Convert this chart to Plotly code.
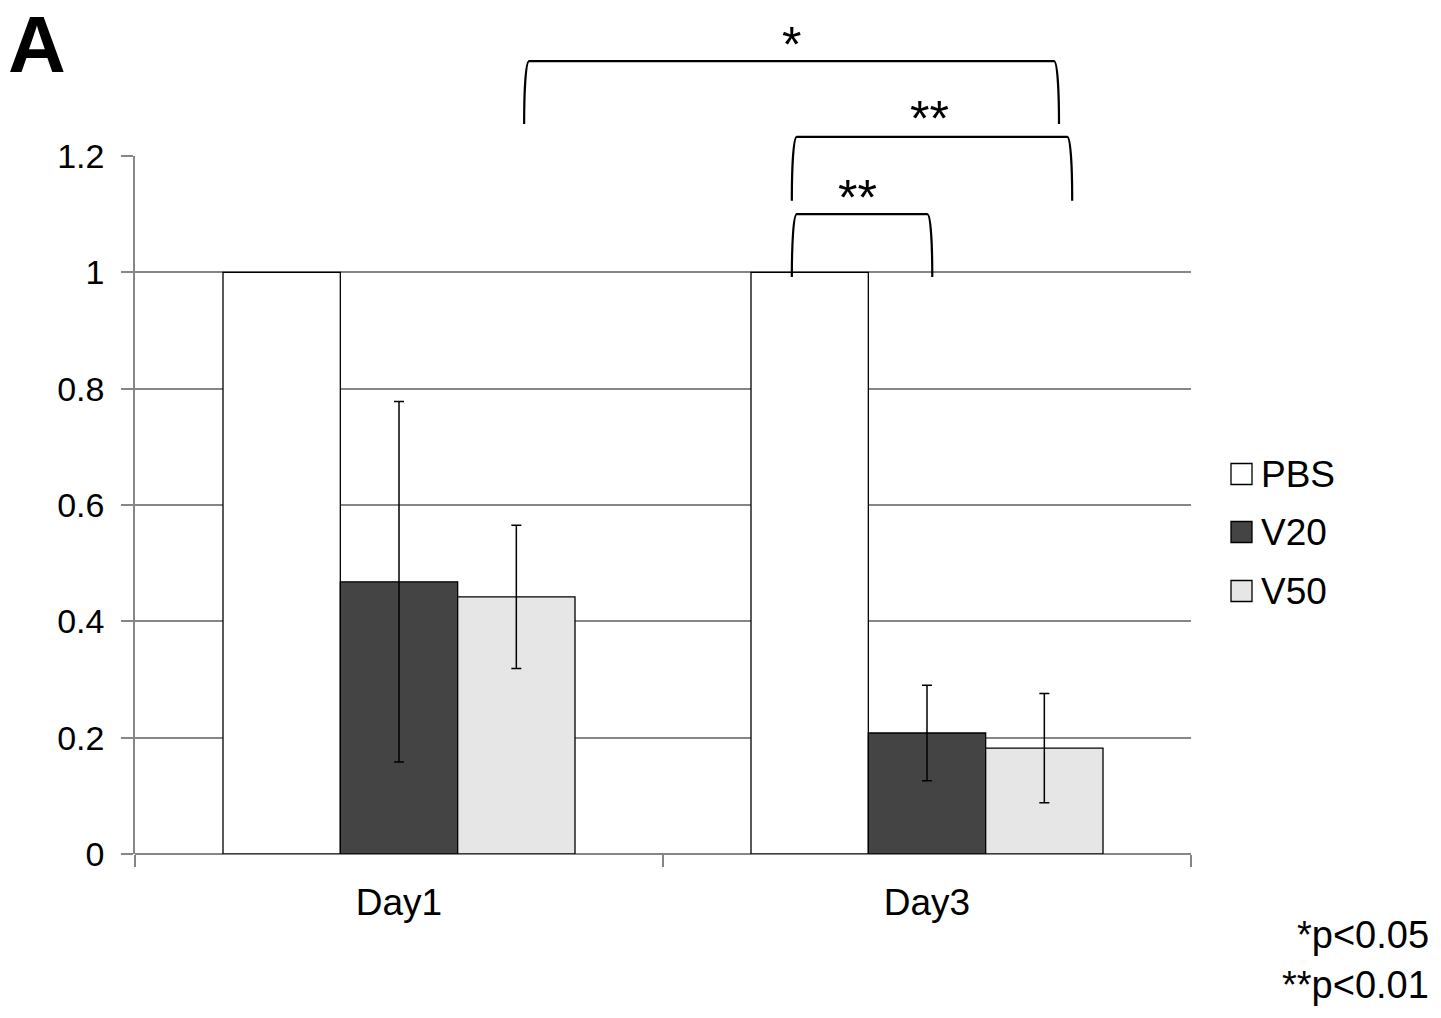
import plotly.graph_objects as go

# ---- data ----
days = ["Day1", "Day3"]
groups = ["PBS", "V20", "V50"]
pbs = [1.0, 1.0]
v20 = [0.468, 0.208]
v50 = [0.442, 0.182]
v20_err = [0.31, 0.082]
v50_err = [0.123, 0.094]
tick_vals = [0, 0.2, 0.4, 0.6, 0.8, 1.0, 1.2]
tick_text = ["0", "0.2", "0.4", "0.6", "0.8", "1", "1.2"]
fills = ["#ffffff", "#444444", "#e6e6e6"]

# significance brackets: (x_left, x_right, y_top, y_end, label, label_x, label_y)
# x in category units (Day1=0, Day3=1), y in value units
brackets = [
    (0.237, 1.250, 1.363, 1.255, "*", 0.744, 1.391),
    (0.744, 1.275, 1.233, 1.123, "**", 1.005, 1.263),
    (0.744, 1.010, 1.100, 0.992, "**", 0.868, 1.127),
]

FONT = "Arial, Liberation Sans, sans-serif"
W, H = 1441, 1018
L, R, T, B = 135, 250, 156, 164
XR = (-0.5, 1.5)
YR = (0, 1.2)
pw = W - L - R
ph = H - T - B


def px(xd):
    return (xd - XR[0]) / (XR[1] - XR[0])


def py(yd):
    return (yd - YR[0]) / (YR[1] - YR[0])


fig = go.Figure()
series = [(groups[0], pbs, None), (groups[1], v20, v20_err), (groups[2], v50, v50_err)]
for (name, vals, err), col in zip(series, fills):
    fig.add_trace(go.Bar(
        x=days, y=vals, name=name,
        marker=dict(color=col, line=dict(color="#000000", width=1.3)),
        error_y=(dict(type="data", array=err, visible=True, color="#000000",
                      thickness=1.5, width=5) if err else None),
        showlegend=False,
    ))

shapes = []
annotations = []
for xl, xr, yt, ye, lab, lx, ly in brackets:
    x0, x1 = px(xl), px(xr)
    y0, y1 = py(ye), py(yt)
    dx = 5.0 / pw
    dyc = (y1 - y0) * 0.5
    path = (f"M {x0},{y0} C {x0},{y0 + dyc} {x0 + dx * 0.3},{y1} {x0 + dx},{y1} "
            f"L {x1 - dx},{y1} C {x1 - dx * 0.3},{y1} {x1},{y0 + dyc} {x1},{y0}")
    shapes.append(dict(type="path", path=path, xref="paper", yref="paper",
                       line=dict(color="#000000", width=2.2)))
    annotations.append(dict(x=px(lx), y=py(ly), xref="paper", yref="paper",
                            text=lab, showarrow=False, xanchor="center", yanchor="middle",
                            font=dict(family=FONT, size=50, color="#000000")))

# manual legend
leg_x0 = (1231 - L) / pw
sq = 21.0
leg_y = [474, 532, 591]
for name, col, yc in zip(groups, fills, leg_y):
    yp = (H - B - yc) / ph
    shapes.append(dict(type="rect", xref="paper", yref="paper",
                       x0=leg_x0, x1=leg_x0 + sq / pw,
                       y0=yp - sq / 2 / ph, y1=yp + sq / 2 / ph,
                       fillcolor=col, line=dict(color="#000000", width=1.3)))
    annotations.append(dict(x=(1259 - L) / pw, y=yp, xref="paper", yref="paper",
                            text=name, showarrow=False, xanchor="left", yanchor="middle",
                            font=dict(family=FONT, size=37, color="#000000")))

# panel letter
annotations.append(dict(x=(6 - L) / pw, y=(H - B - 44) / ph, xref="paper", yref="paper",
                        text="<b>A</b>", showarrow=False, xanchor="left", yanchor="middle",
                        font=dict(family=FONT, size=80, color="#000000")))
# p-value notes
for txt, yc in [("*p&lt;0.05", 935), ("**p&lt;0.01", 985)]:
    annotations.append(dict(x=(1431 - L) / pw, y=(H - B - yc) / ph, xref="paper", yref="paper",
                            text=txt, showarrow=False, xanchor="right", yanchor="middle",
                            font=dict(family=FONT, size=38, color="#000000")))

fig.update_layout(
    width=W, height=H,
    margin=dict(l=L, r=R, t=T, b=B, pad=0),
    paper_bgcolor="#ffffff", plot_bgcolor="#ffffff",
    barmode="group", bargap=1 / 3, bargroupgap=0,
    font=dict(family=FONT, size=34, color="#000000"),
    xaxis=dict(range=list(XR), tickson="boundaries", ticks="outside", ticklen=12,
               tickcolor="#868686", tickwidth=1.5, showgrid=False, showline=False,
               zeroline=False, ticklabelstandoff=23,
               tickfont=dict(family=FONT, size=37, color="#000000")),
    yaxis=dict(range=list(YR), tickvals=tick_vals, ticktext=tick_text,
               ticks="outside", ticklen=12, tickcolor="#868686", tickwidth=1.5,
               showgrid=True, gridcolor="#868686", gridwidth=1.5,
               showline=True, linecolor="#868686", linewidth=1.5,
               zeroline=True, zerolinecolor="#868686", zerolinewidth=1.5,
               ticklabelstandoff=10,
               tickfont=dict(family=FONT, size=34, color="#000000")),
    shapes=shapes, annotations=annotations,
    showlegend=False,
)

fig.write_html("out.html", config={"displayModeBar": False},
               post_script="document.body.style.margin='0';document.body.style.overflow='hidden';")
